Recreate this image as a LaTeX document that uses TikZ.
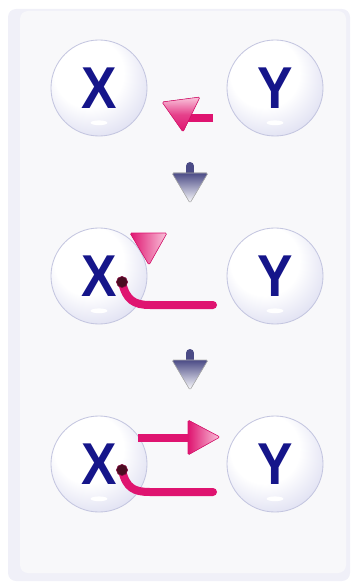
\documentclass[tikz,border=0pt]{standalone}
\usepackage{fontspec}
\newfontfamily\labfont[FakeStretch=0.9]{Liberation Sans}
\definecolor{navy}{HTML}{15158A}
\definecolor{sphmid}{HTML}{D6D7EE}
\definecolor{sphedge}{HTML}{BBBDDD}
\definecolor{sphline}{HTML}{C4C6E0}
\definecolor{pinkA}{HTML}{DF1470}
\definecolor{pinkhi}{HTML}{F9C6DC}
\definecolor{dotc}{HTML}{4A0C22}
\definecolor{arrtop}{HTML}{4B4B86}
\definecolor{frame}{HTML}{F0F0F8}
\definecolor{panel}{HTML}{F8F8FA}
\pgfdeclareradialshading{sphere}{\pgfpoint{-8bp}{12bp}}{color(0bp)=(white); color(18bp)=(white); color(36bp)=(sphmid); color(48bp)=(sphedge); color(52bp)=(sphedge)}

\begin{document}
\begin{tikzpicture}[x=0.025cm, y=-0.025cm,
  ball/.style={circle, inner sep=0pt, minimum size=2.4cm, shade, shading=sphere,
               draw=sphline, line width=0.6pt, text=navy,
               font=\labfont\bfseries\fontsize{42}{42}\selectfont,
               path picture={\fill[white] ([yshift=0.33cm]path picture bounding box.south)
                             ellipse (0.21cm and 0.06cm);}},
  pk/.style={line width=0.2cm, draw=pinkA, line cap=round},
  pkhead/.style={left color=pinkA, right color=pinkhi, draw=pinkA, line width=0.4pt,
                 rounded corners=1pt},
  dot/.style={circle, fill=dotc, draw=pinkA!60!black, inner sep=0pt, minimum size=0.28cm},
  down/.style={top color=arrtop, bottom color=white, draw=gray!60, rounded corners=1pt}
]
  \useasboundingbox (0,0) rectangle (352,583);
  \fill[frame, rounded corners=0.2cm] (8,9) rectangle (350,581);
  \fill[panel, rounded corners=0.2cm] (20,11) rectangle (346,573);

  \node[ball] (x1) at (99,88) {X};
  \node[ball] (y1) at (275,88) {Y};
  \node[ball] (x2) at (99,276) {X};
  \node[ball] (y2) at (275,276) {Y};
  \node[ball] (x3) at (99,464) {X};
  \node[ball] (y3) at (275,464) {Y};

  \foreach \yy in {0,187} {
    \draw[line width=0.2cm, arrtop, line cap=round] (190,166+\yy) -- (190,177+\yy);
    \filldraw[down] (172,173+\yy) -- (208,173+\yy) -- (190,203+\yy) -- cycle;
  }

  % first step
  \coordinate (s1) at (213,118);
  \coordinate (e1) at (184,118);
  \draw[pk, line cap=butt] (s1) -- (e1);
  \filldraw[pkhead, top color=pinkhi, bottom color=pinkA, middle color=pinkA!75!pinkhi]
    (162,102) -- (200,97) -- (183,132) -- cycle;

  % second step
  \coordinate (s2) at (122,282);
  \coordinate (e2) at (213,305);
  \draw[pk] (s2) .. controls (126,300) and (134,305) .. (150,305) -- (e2);
  \node[dot] (d2) at (s2) {};
  \filldraw[pkhead] (130,233) -- (167,233) -- (149,265) -- cycle;

  % third step
  \coordinate (s3) at (122,470);
  \coordinate (e3) at (213,492);
  \coordinate (a3) at (138,438);
  \coordinate (b3) at (192,438);
  \draw[pk, line cap=butt] (a3) -- (b3);
  \filldraw[pkhead] (188,420) -- (188,455) -- (220,437) -- cycle;
  \draw[pk] (s3) .. controls (126,488) and (134,492) .. (150,492) -- (e3);
  \node[dot] (d3) at (s3) {};
\end{tikzpicture}
\end{document}
